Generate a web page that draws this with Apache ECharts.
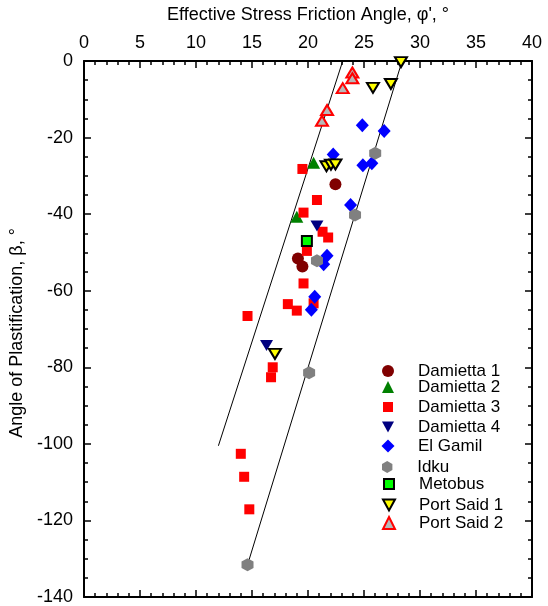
<!DOCTYPE html>
<html>
<head>
<meta charset="utf-8">
<script src="https://cdn.jsdelivr.net/npm/echarts@6/dist/echarts.min.js"></script>
<style>
html,body{margin:0;padding:0;background:#fff;}
#chart{width:548px;height:606px;}
</style>
</head>
<body>
<div id="chart"></div>
<script>
// ---- data (phi', beta) ----
const seriesNames = ['Damietta 1','Damietta 2','Damietta 3','Damietta 4','El Gamil','Idku','Metobus','Port Said 1','Port Said 2'];
const xTicks = [0,5,10,15,20,25,30,35,40];
const yTicks = [0,-20,-40,-60,-80,-100,-120,-140];

const damietta1Phi = [22.45, 19.1, 19.5];
const damietta1Beta = [-32.2, -51.6, -53.7];

const damietta2Phi = [20.5, 19.0];
const damietta2Beta = [-26.6, -40.7];

const damietta3Phi = [19.5, 20.8, 19.6, 21.3, 21.8, 19.9, 19.6, 18.2, 19.0, 20.5, 14.6, 16.85, 16.7, 14.0, 14.3, 14.76];
const damietta3Beta = [-28.2, -36.3, -39.6, -44.6, -46.1, -49.6, -58.1, -63.5, -65.2, -63.3, -66.6, -80.0, -82.6, -102.6, -108.6, -117.1];

const damietta4Phi = [20.8, 16.3];
const damietta4Beta = [-43.1, -74.3];

const elGamilPhi = [24.85, 26.8, 22.25, 24.9, 25.7, 23.8, 21.7, 21.4, 20.6, 20.3];
const elGamilBeta = [-16.8, -18.3, -24.4, -27.2, -26.7, -37.6, -50.9, -53.1, -61.6, -65.0];

const idkuPhi = [26.0, 24.2, 20.8, 20.1, 14.6];
const idkuBeta = [-24.1, -40.2, -52.2, -81.4, -131.6];

const metobusPhi = [19.9];
const metobusBeta = [-47.0];

const portSaid1Phi = [28.3, 25.8, 27.4, 21.65, 22.05, 22.45, 17.05];
const portSaid1Beta = [-0.3, -7.0, -6.0, -27.5, -27.1, -27.0, -76.5];

const portSaid2Phi = [23.96, 23.96, 23.1, 21.7, 21.25];
const portSaid2Beta = [-3.0, -4.5, -7.1, -12.8, -15.6];

// boundary lines
const lowerLinePhi = [12.0, 23.1];
const lowerLineBeta = [-100.5, 0];
const upperLinePhi = [14.6, 28.4];
const upperLineBeta = [-131.6, 0];

function pairs(xs, ys){ return xs.map((x,i)=>[x, ys[i]]); }

const FONT = 'Liberation Sans, Arial, sans-serif';
const hexagon = 'path://M0,-1 L0.866,-0.5 L0.866,0.5 L0,1 L-0.866,0.5 L-0.866,-0.5 Z';
const downTri = 'path://M0,0 L2,0 L1,1.8 Z';

const styles = {
  'Damietta 1': {symbol:'circle', size:12, item:{color:'#800000'}},
  'Damietta 2': {symbol:'triangle', size:[13,12], item:{color:'#008000'}},
  'Damietta 3': {symbol:'rect', size:10, item:{color:'#ff0000'}},
  'Damietta 4': {symbol:downTri, size:[13,11], item:{color:'#000080'}},
  'El Gamil': {symbol:'diamond', size:[13,14], item:{color:'#0000ff'}},
  'Idku': {symbol:hexagon, size:[12,13], item:{color:'#808080'}},
  'Metobus': {symbol:'rect', size:10, item:{color:'#00ff00', borderColor:'#000', borderWidth:2}},
  'Port Said 1': {symbol:downTri, size:[12,10], item:{color:'#ffff00', borderColor:'#000', borderWidth:2}},
  'Port Said 2': {symbol:'triangle', size:[12,10], item:{color:'#b8b8b8', borderColor:'#ff0000', borderWidth:2}}
};

const dataMap = {
  'Damietta 1': pairs(damietta1Phi, damietta1Beta),
  'Damietta 2': pairs(damietta2Phi, damietta2Beta),
  'Damietta 3': pairs(damietta3Phi, damietta3Beta),
  'Damietta 4': pairs(damietta4Phi, damietta4Beta),
  'El Gamil': pairs(elGamilPhi, elGamilBeta),
  'Idku': pairs(idkuPhi, idkuBeta),
  'Metobus': pairs(metobusPhi, metobusBeta),
  'Port Said 1': pairs(portSaid1Phi, portSaid1Beta),
  'Port Said 2': pairs(portSaid2Phi, portSaid2Beta)
};

const legendY = [371, 387, 407, 427, 446, 467, 484, 505, 523];
const legendIconSize = [12, 12, 10, 12, 13, 12, 10, 12, 12];
const ICON_CX = 388, TEXT_X = 418;

const lineStyleAxis = {color:'#000', width:2};
const tickStyle = {color:'#000', width:1.5};

function xAx(pos, showLabel){
  return {
    type:'value', position:pos, min:0, max:40, interval:5,
    axisLine:{show:true, onZero:false, lineStyle:lineStyleAxis},
    axisTick:{show:true, inside:true, length:7, lineStyle:tickStyle},
    minorTick:{show:true, splitNumber:5, length:4, lineStyle:tickStyle},
    splitLine:{show:false}, minorSplitLine:{show:false},
    axisLabel:{show:showLabel, fontSize:18, color:'#000', fontFamily:FONT, margin:9},
    name: showLabel ? "Effective Stress Friction Angle, \u03c6', \u00b0" : '',
    nameLocation:'middle', nameGap:37,
    nameTextStyle:{fontSize:18, color:'#000', fontFamily:FONT}
  };
}
function yAx(pos, showLabel){
  return {
    type:'value', position:pos, min:-140, max:0, interval:20,
    axisLine:{show:true, onZero:false, lineStyle:lineStyleAxis},
    axisTick:{show:true, inside:true, length:7, lineStyle:tickStyle},
    minorTick:{show:true, splitNumber:4, length:4, lineStyle:tickStyle},
    splitLine:{show:false}, minorSplitLine:{show:false},
    axisLabel:{show:showLabel, fontSize:18, color:'#000', fontFamily:FONT, margin:11},
    name: showLabel ? 'Angle of Plastification, \u03b2, \u00b0' : '',
    nameLocation:'middle', nameGap:46,
    nameTextStyle:{fontSize:18, color:'#000', fontFamily:FONT, padding:[0,8,0,0]}
  };
}

const series = [
  {type:'line', name:'lowerBound', data:pairs(lowerLinePhi, lowerLineBeta), showSymbol:false, symbol:'none', silent:true,
   lineStyle:{color:'#000', width:1}, z:1, animation:false},
  {type:'line', name:'upperBound', data:pairs(upperLinePhi, upperLineBeta), showSymbol:false, symbol:'none', silent:true,
   lineStyle:{color:'#000', width:1}, z:1, animation:false}
];
seriesNames.forEach(n => {
  const s = styles[n];
  series.push({type:'scatter', name:n, data:dataMap[n], symbol:s.symbol, symbolSize:s.size,
    itemStyle:Object.assign({opacity:1}, s.item), z:2, animation:false, clip:false});
});

const legends = seriesNames.map((n,i) => {
  const w = legendIconSize[i];
  const left = ICON_CX - w/2;
  const pad = TEXT_X - (left + w + 5);
  return {
    data:[n], orient:'vertical', left:left, top:legendY[i]-10, padding:0,
    itemWidth:w, itemHeight:w, selectedMode:false,
    textStyle:{fontSize:17, color:'#000', fontFamily:FONT, lineHeight:20, padding:[0,0,0,pad]}
  };
});

const chart = echarts.init(document.getElementById('chart'), null, {renderer:'canvas'});
chart.setOption({
  animation:false,
  backgroundColor:'#fff',
  grid:{left:84, right:16, top:61, bottom:9, containLabel:false},
  xAxis:[xAx('top', true), xAx('bottom', false)],
  yAxis:[yAx('left', true), yAx('right', false)],
  legend:legends,
  series:series
});
</script>
</body>
</html>
